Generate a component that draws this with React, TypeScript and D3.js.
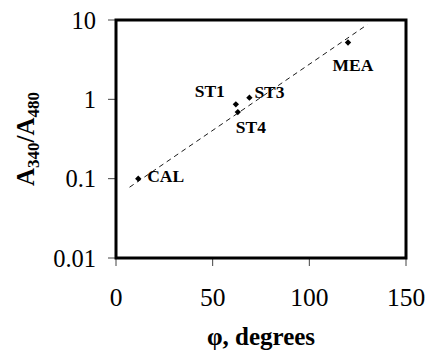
import React from 'react';
import * as d3 from 'd3';

// sample data
const names = ['CAL', 'ST1', 'ST3', 'ST4', 'MEA'];
const phi = [11.5, 62, 69, 63, 120];
const ratio = [0.1, 0.865, 1.05, 0.69, 5.2];

// dashed trend line end points
const fitPhi = [7, 130];
const fitRatio = [0.078, 8.75];

const xTicks = [0, 50, 100, 150];
const yTicks = [0.01, 0.1, 1, 10];
const yTickLabels = ['0.01', '0.1', '1', '10'];

// label placement relative to each point
const labelPos: Record<string, { dx: number; dy: number; anchor: string }> = {
  CAL: { dx: 9, dy: 3, anchor: 'start' },
  ST1: { dx: -11, dy: -7, anchor: 'end' },
  ST3: { dx: 5, dy: 0, anchor: 'start' },
  ST4: { dx: -2, dy: 21, anchor: 'start' },
  MEA: { dx: 5, dy: 28, anchor: 'middle' },
};

const width = 427;
const height = 353;
const margin = { top: 20, right: 21, bottom: 95, left: 116 };

const font = 'Liberation Serif, DejaVu Serif';

export default function App() {
  const x = d3.scaleLinear()
    .domain([0, 150])
    .range([margin.left, width - margin.right]);
  const y = d3.scaleLog()
    .domain([0.01, 10])
    .range([height - margin.bottom, margin.top]);

  const diamond = d3.symbol().type(d3.symbolSquare).size(20)();
  const plotBottom = height - margin.bottom;

  return (
    <svg
      width={width}
      height={height}
      style={{ position: 'absolute', left: 0, top: 0, background: '#fff', fontFamily: font }}
    >
      {/* y ticks */}
      {yTicks.map((t, i) => (
        <g key={'y' + t}>
          <line x1={margin.left - 8} x2={margin.left} y1={y(t)} y2={y(t)} stroke="#444" strokeWidth={1} />
          <text x={margin.left - 20} y={y(t)} dy="0.35em" textAnchor="end" fontSize={24.5}>
            {yTickLabels[i]}
          </text>
        </g>
      ))}

      {/* x ticks */}
      {xTicks.map(t => (
        <g key={'x' + t}>
          <line x1={x(t)} x2={x(t)} y1={plotBottom} y2={plotBottom + 8} stroke="#444" strokeWidth={1} />
          <text x={x(t)} y={plotBottom + 48} textAnchor="middle" fontSize={25.5}>
            {t}
          </text>
        </g>
      ))}

      {/* frame */}
      <rect
        x={margin.left}
        y={margin.top}
        width={width - margin.left - margin.right}
        height={plotBottom - margin.top}
        fill="none"
        stroke="#000"
        strokeWidth={3}
      />

      {/* trend line */}
      <line
        x1={x(fitPhi[0])}
        y1={y(fitRatio[0])}
        x2={x(fitPhi[1])}
        y2={y(fitRatio[1])}
        stroke="#000"
        strokeWidth={0.9}
        strokeDasharray="5,4"
      />

      {/* points */}
      {names.map((n, i) => {
        const px = x(phi[i]);
        const py = y(ratio[i]);
        const lp = labelPos[n];
        return (
          <g key={n}>
            <path d={diamond ?? ''} transform={`translate(${px},${py}) rotate(45)`} fill="#000" />
            <text x={px + lp.dx} y={py + lp.dy} textAnchor={lp.anchor} fontSize={17.5} fontWeight="bold">
              {n}
            </text>
          </g>
        );
      })}

      {/* axis titles */}
      <text x={(margin.left + width - margin.right) / 2} y={345} textAnchor="middle" fontSize={25} fontWeight="bold">
        φ, degrees
      </text>
      <text
        transform={`translate(34,${(margin.top + plotBottom) / 2}) rotate(-90)`}
        textAnchor="middle"
        fontSize={25}
        fontWeight="bold"
      >
        A<tspan fontSize={17} dy={5}>340</tspan>
        <tspan dy={-5}>/A</tspan>
        <tspan fontSize={17} dy={5}>480</tspan>
      </text>
    </svg>
  );
}
